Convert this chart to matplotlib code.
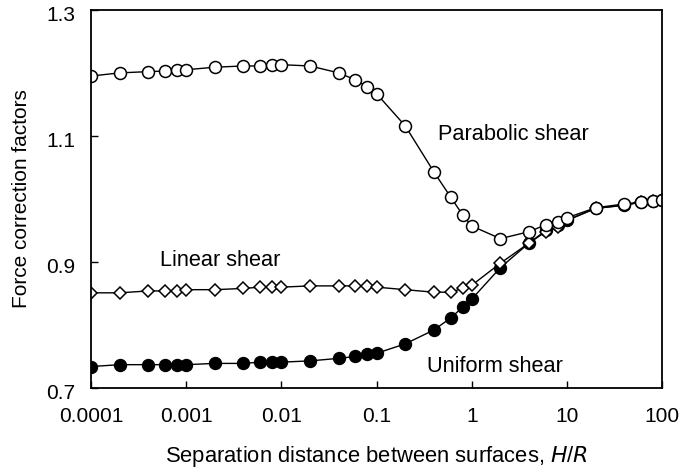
import numpy as np
import matplotlib
matplotlib.use("Agg")
import matplotlib.pyplot as plt
import matplotlib.transforms as mtransforms
from matplotlib.ticker import FixedLocator, FixedFormatter, NullLocator

plt.rcParams['font.family'] = ['Liberation Sans', 'DejaVu Sans']

# separation distance H/R
h_r = [1e-4, 2e-4, 4e-4, 6e-4, 8e-4, 1e-3, 2e-3, 4e-3, 6e-3, 8e-3,
       0.01, 0.02, 0.04, 0.06, 0.08, 0.1, 0.2, 0.4, 0.6, 0.8,
       1, 2, 4, 6, 8, 10, 20, 40, 60, 80, 100]

parabolic = [1.195, 1.200, 1.202, 1.203, 1.205, 1.205, 1.209, 1.211, 1.211, 1.213,
             1.213, 1.211, 1.200, 1.189, 1.178, 1.167, 1.116, 1.043, 1.003, 0.975,
             0.957, 0.937, 0.948, 0.959, 0.964, 0.970, 0.986, 0.992, 0.995, 0.997, 0.998]

linear = [0.851, 0.851, 0.854, 0.854, 0.854, 0.856, 0.856, 0.858, 0.860, 0.860,
          0.860, 0.862, 0.862, 0.862, 0.862, 0.860, 0.856, 0.852, 0.852, 0.858,
          0.863, 0.898, 0.930, 0.948, 0.956, 0.966, 0.985, 0.990, 0.995, 0.997, 0.998]

uniform = [0.734, 0.737, 0.737, 0.737, 0.737, 0.737, 0.739, 0.739, 0.741, 0.741,
           0.741, 0.743, 0.747, 0.750, 0.754, 0.755, 0.770, 0.792, 0.811, 0.828,
           0.841, 0.891, 0.930, 0.950, 0.958, 0.966, 0.985, 0.990, 0.995, 0.997, 0.998]

x_ticks = [1e-4, 1e-3, 1e-2, 1e-1, 1, 10, 100]
x_labels = ['0.0001', '0.001', '0.01', '0.1', '1', '10', '100']
y_ticks = [0.7, 0.9, 1.1, 1.3]
y_labels = ['0.7', '0.9', '1.1', '1.3']

fig = plt.figure(figsize=(6.84, 4.70), dpi=100)
ax = fig.add_axes([0.133, 0.1745, 0.835, 0.8045])

ax.plot(h_r, uniform, '-o', color='black', lw=1, ms=8.6,
        mfc='black', mec='black', mew=1)
ax.plot(h_r, linear, '-D', color='black', lw=1, ms=6.2,
        mfc='white', mec='black', mew=1.1)
ax.plot(h_r, parabolic, '-o', color='black', lw=1, ms=8.6,
        mfc='white', mec='black', mew=1.1)

ax.set_xscale('log')
ax.set_xlim(1e-4, 100)
ax.set_ylim(0.7, 1.3)
ax.xaxis.set_major_locator(FixedLocator(x_ticks))
ax.xaxis.set_major_formatter(FixedFormatter(x_labels))
ax.xaxis.set_minor_locator(NullLocator())
ax.set_yticks(y_ticks)
ax.set_yticklabels(y_labels)

ax.tick_params(direction='in', length=5, width=1, labelsize=15, colors='black')
ax.tick_params(axis='x', pad=14)
ax.tick_params(axis='y', pad=11)
for s in ax.spines.values():
    s.set_linewidth(1.3)

# y tick labels sit a little below their ticks in the original
shift = mtransforms.ScaledTranslation(0, -4 / 100, fig.dpi_scale_trans)
for lab in ax.get_yticklabels():
    lab.set_transform(lab.get_transform() + shift)

ax.text(0.44, 1.103, 'Parabolic shear', fontsize=15.7, va='center', ha='left')
ax.text(5.3e-4, 0.903, 'Linear shear', fontsize=15.7, va='center', ha='left')
ax.text(0.336, 0.734, 'Uniform shear', fontsize=15.7, va='center', ha='left')

ax.set_xlabel('Separation distance between surfaces, $\\mathit{H}$/$\\mathit{R}$',
              fontsize=15.8, labelpad=13)
ax.set_ylabel('Force correction factors', fontsize=15, labelpad=11)

fig.savefig('out.png', dpi=100)
